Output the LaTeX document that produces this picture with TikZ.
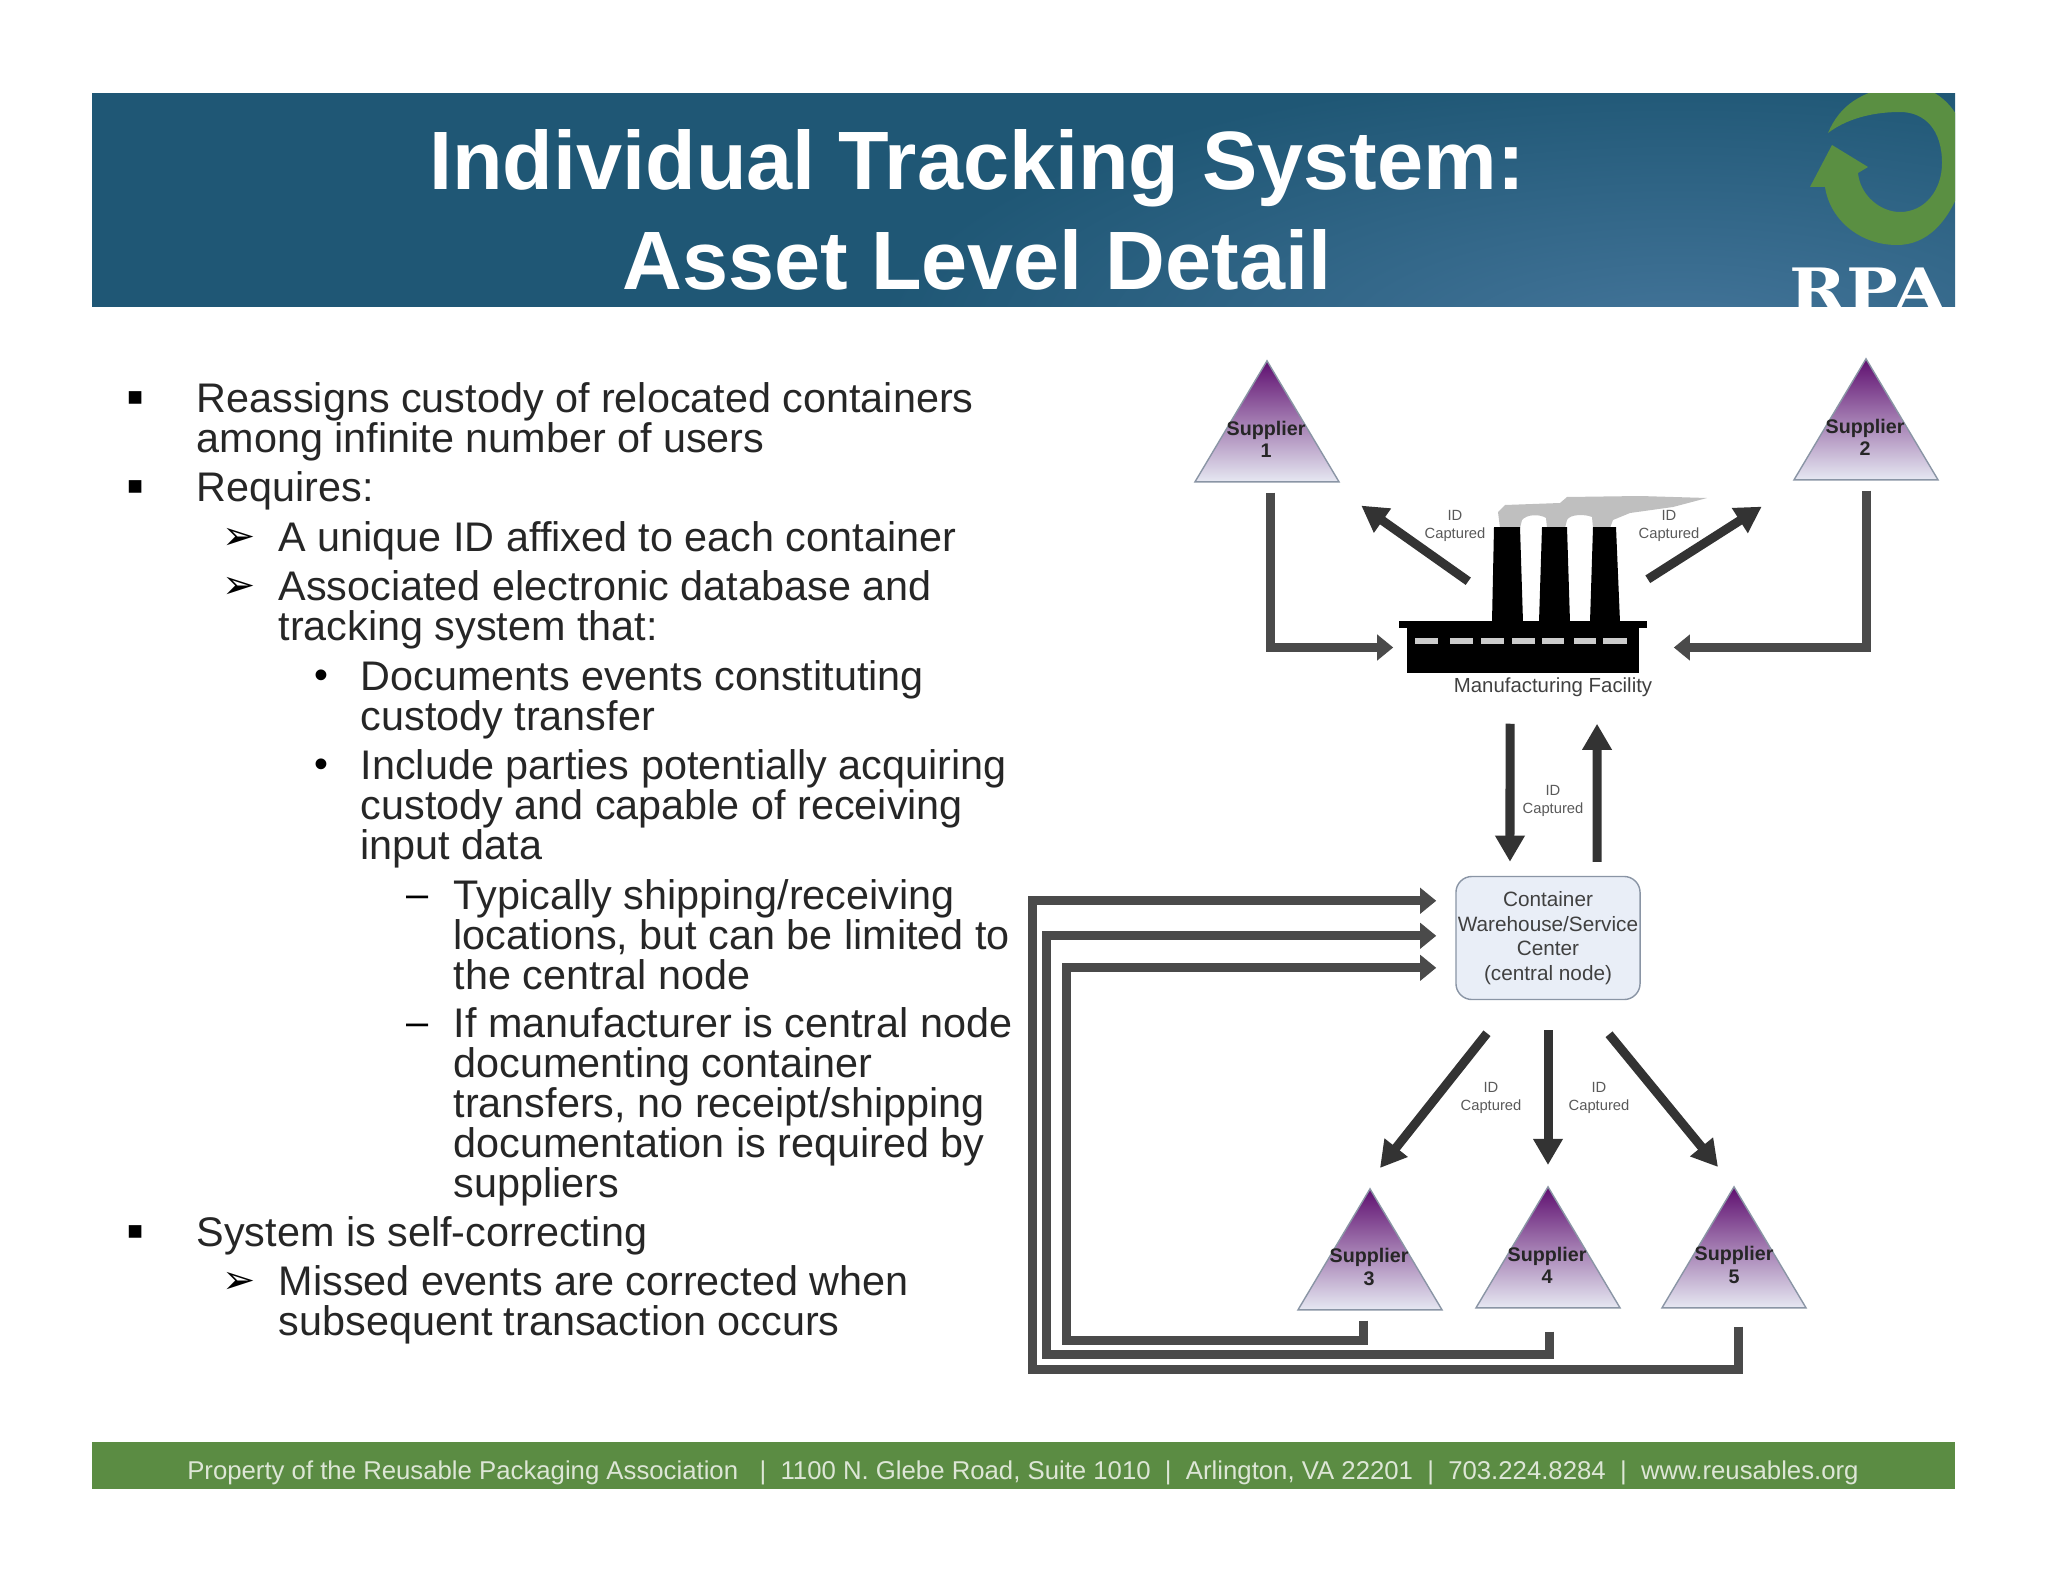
\documentclass[tikz,border=0pt]{standalone}
\usepackage{fontspec}
\setmainfont{Liberation Sans}
\newfontfamily\symfont{DejaVu Sans}
\newfontfamily\rpafont{DejaVu Serif}
\usetikzlibrary{arrows.meta,shapes.geometric}
\definecolor{bannerdark}{HTML}{1F5775}
\definecolor{bannerlight}{HTML}{44759A}
\definecolor{rpagreen}{HTML}{5A8F42}
\definecolor{footgreen}{HTML}{5B8C43}
\definecolor{footink}{HTML}{DDE6D6}
\definecolor{flowgrey}{HTML}{4A4A4A}
\definecolor{idgrey}{HTML}{333333}
\definecolor{suptop}{HTML}{5F0F70}
\definecolor{supmid}{HTML}{A577AE}
\definecolor{supbot}{HTML}{E6E8F2}
\definecolor{boxfill}{HTML}{E9EEF7}
\definecolor{boxline}{HTML}{8A95A5}
\newcommand{\mksq}{\raisebox{1.8pt}{\fontsize{7.2}{7.2}\symfont\char"25AA}}
\newcommand{\mkarr}{{\symfont\char"27A2}}
\newcommand{\lineup}{\rule{0pt}{8pt}}
\begin{document}
\begin{tikzpicture}[x=0.01cm,y=-0.01cm]
	\tikzstyle{body} = [anchor=north west, inner sep=0, align=left, font={\fontsize{11.76}{11.38}\selectfont}, text=black!85];
	\tikzstyle{bulletmark} = [anchor=north west, inner sep=0, font={\fontsize{11.3}{11.38}\selectfont}, text=black];
	\tikzstyle{supplier} = [isosceles triangle, isosceles triangle stretches, shape border rotate=90, inner sep=0, minimum height=1.21cm, minimum width=1.44cm, anchor=apex, draw=boxline, thin, top color=suptop, middle color=supmid, bottom color=supbot];
	\tikzstyle{suptext} = [inner sep=0, align=center, font={\bfseries\fontsize{5.6}{6.3}\selectfont}, text=black!85];
	\tikzstyle{info} = [inner sep=0, align=center, font={\fontsize{4.2}{5.2}\selectfont}, text=black!65];
	\tikzstyle{flow} = [-{Triangle[width=0.25cm,length=0.16cm]}, line width=0.09cm, color=flowgrey];
	\tikzstyle{idflow} = [-{Triangle[width=0.28cm,length=0.26cm]}, line width=0.09cm, color=idgrey];

	\useasboundingbox (0,0) rectangle (2048,1582);

	\begin{scope}
		\clip (92,93) rectangle (1955,307);
		\fill[bannerdark] (92,80) rectangle (1955,320);
		\shade[inner color=bannerlight, outer color=bannerdark] (1680,340) ellipse [x radius=800, y radius=270];
		\fill[rpagreen] (1828,133) .. controls (1840,105) and (1860,92) .. (1900,84)
			.. controls (1950,84) and (1975,130) .. (1965,175)
			.. controls (1950,225) and (1925,245) .. (1897,245)
			.. controls (1860,245) and (1830,220) .. (1825,187)
			-- (1810,187) -- (1832,145) -- (1868,167) -- (1858,173)
			.. controls (1860,195) and (1880,212) .. (1900,212)
			.. controls (1925,212) and (1942,190) .. (1942,163)
			.. controls (1942,130) and (1925,112) .. (1900,112)
			.. controls (1870,112) and (1845,120) .. (1828,133) -- cycle;
		\node[inner sep=0, anchor=base, xscale=1.15, text=white, font={\rpafont\bfseries\fontsize{17}{17}\selectfont}] (rpa) at (1868,311) {RPA};
	\end{scope}
	\fill[white] (80,80) rectangle (1970,93);
	\node[inner sep=0, align=center, text=white, font={\bfseries\fontsize{23.55}{28.45}\selectfont}] (title) at (977,210) {Individual Tracking System:\\Asset Level Detail};

	\node[bulletmark] (mka) at (126,382) {\lineup\mksq};
	\node[body] (ita) at (196,382) {\lineup Reassigns custody of relocated containers\\among infinite number of users};
	\node[bulletmark] (mkb) at (126,471) {\lineup\mksq};
	\node[body] (itb) at (196,471) {\lineup Requires:};
	\node[bulletmark] (mkc) at (222,521) {\lineup\mkarr};
	\node[body] (itc) at (278,521) {\lineup A unique ID affixed to each container};
	\node[bulletmark] (mkd) at (222,570) {\lineup\mkarr};
	\node[body] (itd) at (278,570) {\lineup Associated electronic database and\\tracking system that:};
	\node[bulletmark] (mke) at (314,660) {\lineup\textbullet};
	\node[body] (ite) at (360,660) {\lineup Documents events constituting\\custody transfer};
	\node[bulletmark] (mkf) at (314,749) {\lineup\textbullet};
	\node[body] (itf) at (360,749) {\lineup Include parties potentially acquiring\\custody and capable of receiving\\input data};
	\node[bulletmark] (mkg) at (406,879) {\lineup --};
	\node[body] (itg) at (453,879) {\lineup Typically shipping/receiving\\locations, but can be limited to\\the central node};
	\node[bulletmark] (mkh) at (406,1007) {\lineup --};
	\node[body] (ith) at (453,1007) {\lineup If manufacturer is central node\\documenting container\\transfers, no receipt/shipping\\documentation is required by\\suppliers};
	\node[bulletmark] (mki) at (126,1216) {\lineup\mksq};
	\node[body] (iti) at (196,1216) {\lineup System is self-correcting};
	\node[bulletmark] (mkj) at (222,1265) {\lineup\mkarr};
	\node[body] (itj) at (278,1265) {\lineup Missed events are corrected when\\subsequent transaction occurs};

	\node[supplier] (sup1) at (1267,359) {};
	\node[supplier] (sup2) at (1866,357) {};
	\node[supplier] (sup3) at (1370,1187) {};
	\node[supplier] (sup4) at (1548,1185) {};
	\node[supplier] (sup5) at (1734,1185) {};
	\node[suptext] (supt1) at (1266,439) {Supplier\\1};
	\node[suptext] (supt2) at (1865,437) {Supplier\\2};
	\node[suptext] (supt3) at (1369,1267) {Supplier\\3};
	\node[suptext] (supt4) at (1547,1265) {Supplier\\4};
	\node[suptext] (supt5) at (1734,1265) {Supplier\\5};

	\fill[color=black!25] (1500,528) -- (1498,512) -- (1505,505) -- (1560,503) -- (1567,497) -- (1640,496) -- (1707,498) -- (1673,507) -- (1630,513) -- (1613,520) -- (1610,528) -- (1593,528) -- (1592,517)
		.. controls (1585,514) and (1570,514) .. (1567,520) -- (1565,528) -- (1547,528) -- (1546,518)
		.. controls (1540,514) and (1527,514) .. (1522,520) -- (1520,528) -- cycle;
	\foreach \ta/\tb/\ba/\bb in {1494/1520/1492/1523, 1542/1567/1539/1570, 1593/1616/1590/1620} {
		\fill[black] (\ta,527) -- (\tb,527) -- (\bb,622) -- (\ba,622) -- cycle;
	}
	\node[fill=black, inner sep=0, minimum width=2.32cm, minimum height=0.45cm] (fac) at (1523,650.5) {};
	\node[fill=black, inner sep=0, minimum width=2.48cm, minimum height=0.07cm] (roof) at (1523,624.5) {};
	\foreach \wa/\wb in {1415/1438, 1450/1473, 1481/1504, 1512/1535, 1542/1564, 1574/1596, 1603/1627} {
		\fill[black!20] (\wa,638) rectangle (\wb,644);
	}
	\node[inner sep=0, font={\fontsize{5.8}{7}\selectfont}, text=black!75] (factxt) at (1553,687) {Manufacturing Facility};

	\node[draw=boxline, fill=boxfill, rounded corners=0.16cm, inner sep=0, minimum width=1.84cm, minimum height=1.23cm, align=center, font={\fontsize{5.9}{7}\selectfont}, text=black!75] (cont) at (1548,938) {Container\\Warehouse/Service\\Center\\(central node)};

	\draw[flow, shorten >=0.13cm] ([xshift=0.03cm,yshift=-0.10cm]sup1.lower side) |- ([yshift=0.03cm]fac.west);
	\draw[flow, shorten >=0.34cm] ([yshift=-0.10cm]sup2.lower side) |- ([yshift=0.03cm]fac.east);

	\draw[idflow] ([shift={(0.62cm,0.46cm)}]fac.north west) -- ([shift={(0.21cm,-0.23cm)}]sup1.right corner);
	\draw[idflow] ([shift={(0.08cm,0.48cm)}]fac.north east) -- ([shift={(-0.31cm,-0.26cm)}]sup2.left corner);
	\draw[idflow] ([shift={(-0.13cm,-0.50cm)}]fac.south) -- ([shift={(-0.38cm,0.14cm)}]cont.north);
	\draw[idflow] ([shift={(0.49cm,0.14cm)}]cont.north) -- ([shift={(0.74cm,-0.50cm)}]fac.south);
	\draw[idflow] ([shift={(-0.61cm,-0.33cm)}]cont.south) -- ([shift={(0.10cm,0.19cm)}]sup3.apex);
	\draw[idflow, shorten <=0.30cm, shorten >=0.20cm] (cont.south) -- (sup4.apex);
	\draw[idflow] ([shift={(0.61cm,-0.34cm)}]cont.south) -- ([shift={(-0.16cm,0.18cm)}]sup5.apex);

	\coordinate (rt3) at (1066,1340);
	\coordinate (rt4) at (1046,1354);
	\coordinate (rt5) at (1032,1369);
	\draw[flow] ([shift={(-0.07cm,-0.10cm)}]sup3.lower side) |- (rt3) |- ([shift={(-0.19cm,-0.92cm)}]cont.north west);
	\draw[flow] ([shift={(0.01cm,-0.23cm)}]sup4.lower side) |- (rt4) |- ([shift={(-0.19cm,-0.60cm)}]cont.north west);
	\draw[flow] ([shift={(0.04cm,-0.18cm)}]sup5.lower side) |- (rt5) |- ([shift={(-0.19cm,-0.25cm)}]cont.north west);

	\node[info] (id1) at (1455,526) {ID\\Captured};
	\node[info] (id2) at (1669,526) {ID\\Captured};
	\node[info] (id3) at (1553,801) {ID\\Captured};
	\node[info] (id4) at (1491,1098) {ID\\Captured};
	\node[info] (id5) at (1599,1098) {ID\\Captured};

	\fill[footgreen] (92,1442) rectangle (1955,1489);
	\node[inner sep=0, text=footink, font={\fontsize{7.32}{9}\selectfont}] (foot) at (1023,1473) {Property of the Reusable Packaging Association \ \ |\ \ 1100 N. Glebe Road, Suite 1010 \ |\ \ Arlington, VA 22201 \ |\ \ 703.224.8284 \ |\ \ www.reusables.org};
\end{tikzpicture}
\end{document}
